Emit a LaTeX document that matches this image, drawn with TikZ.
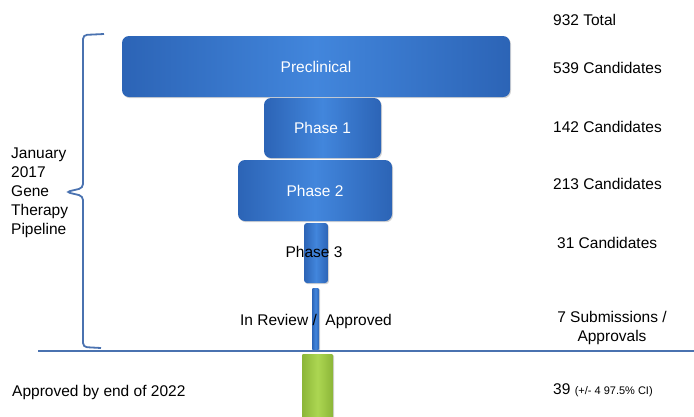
\documentclass[tikz,border=0pt]{standalone}
\usepackage{fontspec}
\setmainfont{Liberation Sans}
\usetikzlibrary{positioning,calc,shadows}

\definecolor{stagedark}{RGB}{44,100,182}
\definecolor{stagelight}{RGB}{66,134,220}
\definecolor{greendark}{RGB}{140,182,56}
\definecolor{greenlight}{RGB}{172,214,82}
\definecolor{linecol}{RGB}{74,114,176}

\tikzset{
    stage/.style={rounded corners=7pt, left color=stagedark, right color=stagedark,
        middle color=stagelight, text=white, inner sep=0pt, anchor=center,
        drop shadow={opacity=0.35, shadow xshift=1pt, shadow yshift=-1.2pt}},
    lbl/.style={font=\fontsize{15.5}{19}\selectfont, inner sep=0pt},
    count/.style={lbl, anchor=west},
    divider/.style={draw=linecol, line width=2.4pt}
}

\begin{document}
\begin{tikzpicture}[x=1pt, y=-1pt]
    \useasboundingbox (0,0) rectangle (694,416);

    % funnel stages
    \node[stage, lbl, text=white, minimum width=388, minimum height=61] (pre) at (316,66.5) {Preclinical};
    \node[stage, lbl, text=white, minimum width=117, minimum height=60] (ph1) at (322.5,128) {Phase 1};
    \node[stage, lbl, text=white, minimum width=154, minimum height=61] (ph2) at (315,190.5) {Phase 2};
    \node[stage, rounded corners=3pt, minimum width=24, minimum height=60] (ph3) at (316,253) {};
    \node[lbl] (ph3lbl) at (314,252) {Phase 3};
    \node[stage, rounded corners=1pt, minimum width=7, minimum height=62] (rev) at (315.5,319) {};
    \node[lbl] (revlbl) at (316,321) {In Review /\ \ Approved};

    % divider and approvals bar
    \coordinate (divL) at (38,351);
    \coordinate (divR) at (694,351);
    \draw[divider] (divL) -- (divR);
    \node[stage, rounded corners=1pt, left color=greendark, right color=greendark,
        middle color=greenlight, minimum width=31, minimum height=72] (appr) at (317.5,390) {};

    % bracket
    \coordinate (brTop) at (104,34);
    \coordinate (brTip) at (66,192);
    \coordinate (brBot) at (101,348);
    \draw[linecol, line width=1.8pt, rounded corners=4pt]
        (brTop) -- (83,35) -- (83,188) -- (brTip) -- (83,196) -- (83,347) -- (brBot);
    \node[lbl, anchor=north west, align=left, font=\fontsize{15.5}{19}\selectfont] (pipe) at (11,148)
        {January\\2017\\Gene\\Therapy\\Pipeline};
    \node[count] (by22) at (12,392) {Approved by end of 2022};

    % counts
    \node[count] (tot) at (553,20) {932 Total};
    \node[count] (c539) at (553,68) {539 Candidates};
    \node[count] (c142) at (553,127) {142 Candidates};
    \node[count] (c213) at (553,184) {213 Candidates};
    \node[count] (c31) at (557,243) {31 Candidates};
    \node[lbl, align=center] (c7) at (612,328) {7 Submissions /\\Approvals};
    \node[count] (c39) at (553,390) {39 {\fontsize{11}{13}\selectfont (+/- 4 97.5\% CI)}};
\end{tikzpicture}
\end{document}
